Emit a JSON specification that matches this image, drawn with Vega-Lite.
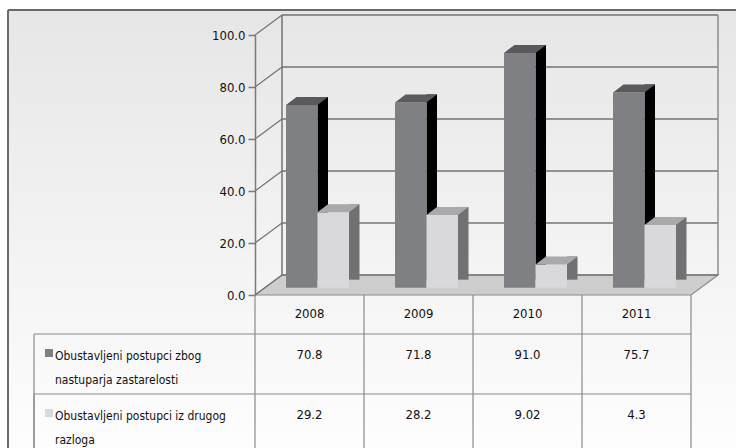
{
  "$schema": "https://vega.github.io/schema/vega-lite/v6.json",
  "width": 728,
  "height": 438,
  "autosize": {"type": "none"},
  "padding": {"left": 8, "top": 10, "right": 0, "bottom": 0},
  "background": "#ffffff",
  "config": {
    "view": {
      "fill": {"gradient": "linear", "x1": 0, "y1": 0, "x2": 0, "y2": 1, "stops": [{"offset": 0, "color": "#e6e6e6"}, {"offset": 1, "color": "#fdfdfd"}]},
      "stroke": "#6a6a6a",
      "strokeWidth": 2,
      "strokeDash": [728, 1166, 438, 0]
    },
    "font": "DejaVu Sans Condensed, sans-serif",
    "text": {"font": "DejaVu Sans Condensed, sans-serif", "fontSize": 13, "color": "#111111"}
  },
  "datasets": {
    "main": [
      {"year": "2008", "series": "Obustavljeni postupci zbog\nnastuparja zastarelosti", "value": 70.8, "label": "70.8"},
      {"year": "2009", "series": "Obustavljeni postupci zbog\nnastuparja zastarelosti", "value": 71.8, "label": "71.8"},
      {"year": "2010", "series": "Obustavljeni postupci zbog\nnastuparja zastarelosti", "value": 91.0, "label": "91.0"},
      {"year": "2011", "series": "Obustavljeni postupci zbog\nnastuparja zastarelosti", "value": 75.7, "label": "75.7"},
      {"year": "2008", "series": "Obustavljeni postupci iz drugog\nrazloga", "value": 29.2, "label": "29.2"},
      {"year": "2009", "series": "Obustavljeni postupci iz drugog\nrazloga", "value": 28.2, "label": "28.2"},
      {"year": "2010", "series": "Obustavljeni postupci iz drugog\nrazloga", "value": 9.02, "label": "9.02"},
      {"year": "2011", "series": "Obustavljeni postupci iz drugog\nrazloga", "value": 24.3, "label": "4.3"}
    ],
    "ticks": [{"tick": 0}, {"tick": 20}, {"tick": 40}, {"tick": 60}, {"tick": 80}, {"tick": 100}]
  },
  "resolve": {"scale": {"y": "independent"}},
  "layer": [
    {
      "data": {"name": "ticks"},
      "transform": [{"filter": "datum.tick === 0"}],
      "mark": {"type": "point", "shape": "M0,0L436,0L463,-20L27,-20Z", "size": 4, "filled": true, "fill": "#cdcdcd", "stroke": "#8c8c8c", "strokeWidth": 1.2, "opacity": 1},
      "encoding": {
        "x": {"datum": "2008", "type": "ordinal", "bandPosition": 0, "scale": {"type": "band", "domain": ["2008", "2009", "2010", "2011"], "range": [247, 683], "paddingInner": 0, "paddingOuter": 0}, "axis": null},
        "y": {"field": "tick", "type": "quantitative", "scale": {"domain": [0, 100], "range": [285, 25], "nice": false, "zero": false}, "axis": null}
      }
    },
    {
      "data": {"name": "ticks"},
      "mark": {"type": "rule", "color": "#737373", "strokeWidth": 1.5, "xOffset": 27, "x2Offset": 27, "yOffset": -20, "y2Offset": -20},
      "encoding": {
        "x": {"datum": "2008", "type": "ordinal", "bandPosition": 0},
        "x2": {"datum": "2011", "bandPosition": 1},
        "y": {"field": "tick", "type": "quantitative", "scale": {"domain": [0, 100], "range": [285, 25], "nice": false, "zero": false},
              "axis": {"values": [0, 20, 40, 60, 80, 100], "format": ".1f", "offset": -247, "title": null, "grid": false,
                       "domainColor": "#7a7a7a", "domainWidth": 1.5, "tickColor": "#7a7a7a", "tickSize": 7, "tickWidth": 1.5,
                       "labelPadding": 3, "labelFont": "DejaVu Sans Condensed, sans-serif", "labelFontSize": 13, "labelColor": "#111111"}},
        "y2": {"field": "tick"}
      }
    },
    {
      "data": {"name": "ticks"},
      "mark": {"type": "rule", "color": "#737373", "strokeWidth": 1.2, "x2Offset": 27, "y2Offset": -20},
      "encoding": {
        "x": {"datum": "2008", "type": "ordinal", "bandPosition": 0},
        "x2": {"datum": "2008", "bandPosition": 0},
        "y": {"field": "tick", "type": "quantitative", "scale": {"domain": [0, 100], "range": [285, 25], "nice": false, "zero": false}, "axis": null},
        "y2": {"field": "tick"}
      }
    },
    {
      "data": {"name": "ticks"},
      "transform": [{"filter": "datum.tick === 0"}],
      "mark": {"type": "rule", "color": "#737373", "strokeWidth": 1.5, "xOffset": 27, "x2Offset": 27, "yOffset": -20, "y2Offset": -20},
      "encoding": {
        "x": {"datum": "2008", "type": "ordinal", "bandPosition": 0},
        "x2": {"datum": "2008", "bandPosition": 0},
        "y": {"field": "tick", "type": "quantitative", "scale": {"domain": [0, 100], "range": [285, 25], "nice": false, "zero": false}, "axis": null},
        "y2": {"datum": 100}
      }
    },
    {
      "data": {"name": "ticks"},
      "transform": [{"filter": "datum.tick === 0"}],
      "mark": {"type": "rule", "color": "#8c8c8c", "strokeWidth": 1.5, "xOffset": 27, "x2Offset": 27, "yOffset": -20, "y2Offset": -20},
      "encoding": {
        "x": {"datum": "2011", "type": "ordinal", "bandPosition": 1},
        "x2": {"datum": "2011", "bandPosition": 1},
        "y": {"field": "tick", "type": "quantitative", "scale": {"domain": [0, 100], "range": [285, 25], "nice": false, "zero": false}, "axis": null},
        "y2": {"datum": 100}
      }
    },
    {
      "data": {"name": "main"},
      "transform": [{"filter": {"field": "series", "equal": "Obustavljeni postupci zbog\nnastuparja zastarelosti"}}],
      "mark": {"type": "bar", "width": 10.5, "xOffset": 13.25, "yOffset": -8, "color": "#000000"},
      "encoding": {
        "x": {"field": "year", "type": "ordinal"},
        "y": {"field": "value", "type": "quantitative", "scale": {"domain": [0, 100], "range": [277.7, 19.7], "nice": false, "zero": true}, "axis": null}
      }
    },
    {
      "data": {"name": "main"},
      "transform": [{"filter": {"field": "series", "equal": "Obustavljeni postupci zbog\nnastuparja zastarelosti"}}],
      "mark": {"type": "bar", "width": 31.5, "xOffset": -7.75, "color": "#7f8084"},
      "encoding": {
        "x": {"field": "year", "type": "ordinal"},
        "y": {"field": "value", "type": "quantitative", "scale": {"domain": [0, 100], "range": [277.7, 19.7], "nice": false, "zero": true}, "axis": null}
      }
    },
    {
      "data": {"name": "main"},
      "transform": [{"filter": {"field": "series", "equal": "Obustavljeni postupci zbog\nnastuparja zastarelosti"}}],
      "mark": {"type": "point", "shape": "M0,0L10.5,-8L42,-8L31.5,0Z", "size": 4, "filled": true, "fill": "#5a5a5e", "strokeWidth": 0, "opacity": 1, "xOffset": -23.5},
      "encoding": {
        "x": {"field": "year", "type": "ordinal"},
        "y": {"field": "value", "type": "quantitative", "scale": {"domain": [0, 100], "range": [277.7, 19.7], "nice": false, "zero": true}, "axis": null}
      }
    },
    {
      "data": {"name": "main"},
      "transform": [{"filter": {"field": "series", "equal": "Obustavljeni postupci iz drugog\nrazloga"}}],
      "mark": {"type": "bar", "width": 10.5, "xOffset": 44.75, "yOffset": -8, "color": "#717173"},
      "encoding": {
        "x": {"field": "year", "type": "ordinal"},
        "y": {"field": "value", "type": "quantitative", "scale": {"domain": [0, 100], "range": [277.7, 19.7], "nice": false, "zero": true}, "axis": null}
      }
    },
    {
      "data": {"name": "main"},
      "transform": [{"filter": {"field": "series", "equal": "Obustavljeni postupci iz drugog\nrazloga"}}],
      "mark": {"type": "bar", "width": 31.5, "xOffset": 23.75, "color": "#d9d9db"},
      "encoding": {
        "x": {"field": "year", "type": "ordinal"},
        "y": {"field": "value", "type": "quantitative", "scale": {"domain": [0, 100], "range": [277.7, 19.7], "nice": false, "zero": true}, "axis": null}
      }
    },
    {
      "data": {"name": "main"},
      "transform": [{"filter": {"field": "series", "equal": "Obustavljeni postupci iz drugog\nrazloga"}}],
      "mark": {"type": "point", "shape": "M0,0L10.5,-8L42,-8L31.5,0Z", "size": 4, "filled": true, "fill": "#a9a9ab", "strokeWidth": 0, "opacity": 1, "xOffset": 8},
      "encoding": {
        "x": {"field": "year", "type": "ordinal"},
        "y": {"field": "value", "type": "quantitative", "scale": {"domain": [0, 100], "range": [277.7, 19.7], "nice": false, "zero": true}, "axis": null}
      }
    },
    {
      "data": {"name": "main"},
      "transform": [{"filter": {"field": "series", "equal": "Obustavljeni postupci iz drugog\nrazloga"}}],
      "mark": {"type": "point", "shape": "M0,0L10.5,-8L10.5,0Z", "size": 4, "filled": true, "fill": "#cdcdcd", "strokeWidth": 0, "opacity": 1, "xOffset": 39.5},
      "encoding": {
        "x": {"field": "year", "type": "ordinal"},
        "y": {"datum": 0, "type": "quantitative", "scale": {"domain": [0, 100], "range": [277.7, 19.7], "nice": false, "zero": true}, "axis": null}
      }
    },
    {
      "data": {"name": "main"},
      "transform": [{"filter": "datum.year === '2008'"}],
      "mark": {"type": "rule", "color": "#8a8a8a", "strokeWidth": 1.2, "xOffset": -221, "yOffset": -22, "y2Offset": -22},
      "encoding": {
        "x": {"datum": "2008", "type": "ordinal", "bandPosition": 0},
        "x2": {"datum": "2011", "bandPosition": 1},
        "y": {"field": "series", "type": "nominal", "scale": {"type": "point", "domain": ["Obustavljeni postupci zbog\nnastuparja zastarelosti", "Obustavljeni postupci iz drugog\nrazloga"], "range": [346, 406], "padding": 0}, "axis": null},
        "y2": {"field": "series"}
      }
    },
    {
      "data": {"name": "main"},
      "transform": [{"filter": "datum.year === '2008'"}],
      "mark": {"type": "rule", "color": "#8a8a8a", "strokeWidth": 1.2, "xOffset": -221, "x2Offset": -221, "yOffset": -22},
      "encoding": {
        "x": {"datum": "2008", "type": "ordinal", "bandPosition": 0},
        "x2": {"datum": "2008", "bandPosition": 0},
        "y": {"field": "series", "type": "nominal", "scale": {"type": "point", "domain": ["Obustavljeni postupci zbog\nnastuparja zastarelosti", "Obustavljeni postupci iz drugog\nrazloga"], "range": [346, 406], "padding": 0}, "axis": null},
        "y2": {"value": "height"}
      }
    },
    {
      "data": {"name": "main"},
      "transform": [{"filter": {"field": "series", "equal": "Obustavljeni postupci zbog\nnastuparja zastarelosti"}}],
      "mark": {"type": "rule", "color": "#8a8a8a", "strokeWidth": 1.2, "yOffset": -61},
      "encoding": {
        "x": {"field": "year", "type": "ordinal", "bandPosition": 0},
        "x2": {"field": "year", "bandPosition": 0},
        "y": {"field": "series", "type": "nominal", "scale": {"type": "point", "domain": ["Obustavljeni postupci zbog\nnastuparja zastarelosti", "Obustavljeni postupci iz drugog\nrazloga"], "range": [346, 406], "padding": 0}, "axis": null},
        "y2": {"value": "height"}
      }
    },
    {
      "data": {"name": "main"},
      "transform": [{"filter": "datum.year === '2011'"}, {"filter": {"field": "series", "equal": "Obustavljeni postupci zbog\nnastuparja zastarelosti"}}],
      "mark": {"type": "rule", "color": "#8a8a8a", "strokeWidth": 1.2, "yOffset": -61},
      "encoding": {
        "x": {"field": "year", "type": "ordinal", "bandPosition": 1},
        "x2": {"field": "year", "bandPosition": 1},
        "y": {"field": "series", "type": "nominal", "scale": {"type": "point", "domain": ["Obustavljeni postupci zbog\nnastuparja zastarelosti", "Obustavljeni postupci iz drugog\nrazloga"], "range": [346, 406], "padding": 0}, "axis": null},
        "y2": {"value": "height"}
      }
    },
    {
      "data": {"name": "main"},
      "transform": [{"filter": {"field": "series", "equal": "Obustavljeni postupci zbog\nnastuparja zastarelosti"}}],
      "mark": {"type": "text", "baseline": "middle", "align": "center", "yOffset": -42},
      "encoding": {
        "x": {"field": "year", "type": "ordinal"},
        "y": {"field": "series", "type": "nominal", "scale": {"type": "point", "domain": ["Obustavljeni postupci zbog\nnastuparja zastarelosti", "Obustavljeni postupci iz drugog\nrazloga"], "range": [346, 406], "padding": 0}, "axis": null},
        "text": {"field": "year"}
      }
    },
    {
      "data": {"name": "main"},
      "mark": {"type": "text", "baseline": "middle", "align": "center", "yOffset": -1},
      "encoding": {
        "x": {"field": "year", "type": "ordinal"},
        "y": {"field": "series", "type": "nominal", "scale": {"type": "point", "domain": ["Obustavljeni postupci zbog\nnastuparja zastarelosti", "Obustavljeni postupci iz drugog\nrazloga"], "range": [346, 406], "padding": 0}, "axis": null},
        "text": {"field": "label"}
      }
    },
    {
      "data": {"name": "main"},
      "transform": [{"filter": "datum.year === '2008'"}],
      "mark": {"type": "point", "shape": "square", "size": 64, "filled": true, "opacity": 1, "xOffset": -206, "yOffset": -3},
      "encoding": {
        "x": {"field": "year", "type": "ordinal", "bandPosition": 0},
        "y": {"field": "series", "type": "nominal", "scale": {"type": "point", "domain": ["Obustavljeni postupci zbog\nnastuparja zastarelosti", "Obustavljeni postupci iz drugog\nrazloga"], "range": [346, 406], "padding": 0}, "axis": null},
        "color": {"field": "series", "type": "nominal", "scale": {"domain": ["Obustavljeni postupci zbog\nnastuparja zastarelosti", "Obustavljeni postupci iz drugog\nrazloga"], "range": ["#7f8084", "#d9d9db"]}, "legend": null}
      }
    },
    {
      "data": {"name": "main"},
      "transform": [{"filter": "datum.year === '2008'"}],
      "mark": {"type": "text", "align": "left", "baseline": "alphabetic", "dy": 4, "lineHeight": 24, "lineBreak": "\n", "fontSize": 12, "xOffset": -200},
      "encoding": {
        "x": {"field": "year", "type": "ordinal", "bandPosition": 0},
        "y": {"field": "series", "type": "nominal", "scale": {"type": "point", "domain": ["Obustavljeni postupci zbog\nnastuparja zastarelosti", "Obustavljeni postupci iz drugog\nrazloga"], "range": [346, 406], "padding": 0}, "axis": null},
        "text": {"field": "series"}
      }
    }
  ]
}
